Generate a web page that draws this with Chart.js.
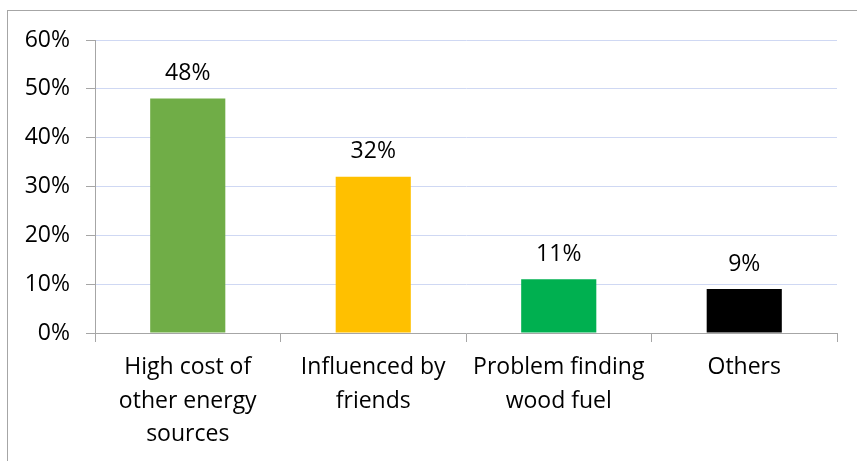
<!DOCTYPE html>
<html>
<head>
<meta charset="utf-8">
<script src="https://cdn.jsdelivr.net/npm/chart.js@4"></script>
<style>
  html, body { margin: 0; padding: 0; background: #fff; }
  #wrap { width: 857px; height: 461px; }
</style>
</head>
<body>
<div id="wrap"><canvas id="reasonChart" width="857" height="461"></canvas></div>
<script>
const categories = [
    ['High cost of', 'other energy', 'sources'],
    ['Influenced by', 'friends'],
    ['Problem finding', 'wood fuel'],
    'Others'
];
const shares = [48, 32, 11, 9];
const barColors = ['#70AD47', '#FFC000', '#00B050', '#000000'];
const yTicks = [0, 10, 20, 30, 40, 50, 60];

const FONT = '"Open Sans", Lato, sans-serif';
const FONT_SIZE = 23;

// outer frame around the whole chart
const framePlugin = {
    id: 'frame',
    beforeDraw(chart) {
        const ctx = chart.ctx;
        ctx.save();
        ctx.strokeStyle = '#a6a6a6';
        ctx.lineWidth = 1;
        ctx.strokeRect(7.5, 10.5, chart.width + 10, chart.height + 10);
        ctx.restore();
    }
};

// percentage printed above each bar
const valueLabels = {
    id: 'valueLabels',
    afterDatasetsDraw(chart) {
        const ctx = chart.ctx;
        const meta = chart.getDatasetMeta(0);
        ctx.save();
        ctx.font = FONT_SIZE + 'px ' + FONT;
        ctx.fillStyle = '#000';
        ctx.textAlign = 'center';
        ctx.textBaseline = 'middle';
        meta.data.forEach((bar, i) => {
            ctx.fillText(shares[i] + '%', bar.x, bar.y - 25);
        });
        ctx.restore();
    }
};

const data = {
    labels: categories,
    datasets: [{
        data: shares,
        backgroundColor: barColors,
        borderWidth: 0,
        categoryPercentage: 1,
        barPercentage: 0.405
    }]
};

const config = {
    type: 'bar',
    data: data,
    options: {
        responsive: false,
        animation: false,
        layout: { padding: { left: 0, right: 20, top: 40, bottom: 0 } },
        plugins: {
            legend: { display: false },
            tooltip: { enabled: false }
        },
        scales: {
            x: {
                grid: {
                    offset: true,
                    drawOnChartArea: false,
                    tickLength: 9,
                    tickColor: '#a6a6a6'
                },
                border: { color: '#a6a6a6' },
                ticks: {
                    color: '#000',
                    padding: 9,
                    font: { family: FONT, size: FONT_SIZE, lineHeight: 1.45 }
                },
                afterFit(scale) { scale.height = 128; }
            },
            y: {
                min: 0,
                max: 60,
                afterBuildTicks(scale) {
                    scale.ticks = yTicks.map(v => ({ value: v }));
                },
                grid: {
                    color: '#cfd8f3',
                    tickColor: '#a6a6a6',
                    tickLength: 9
                },
                border: { color: '#a6a6a6' },
                ticks: {
                    color: '#000',
                    padding: 16,
                    font: { family: FONT, size: FONT_SIZE },
                    callback: v => v + '%'
                },
                afterFit(scale) { scale.width = 95; }
            }
        }
    },
    plugins: [framePlugin, valueLabels]
};

const reasonChart = new Chart(document.getElementById('reasonChart'), config);
</script>
</body>
</html>
